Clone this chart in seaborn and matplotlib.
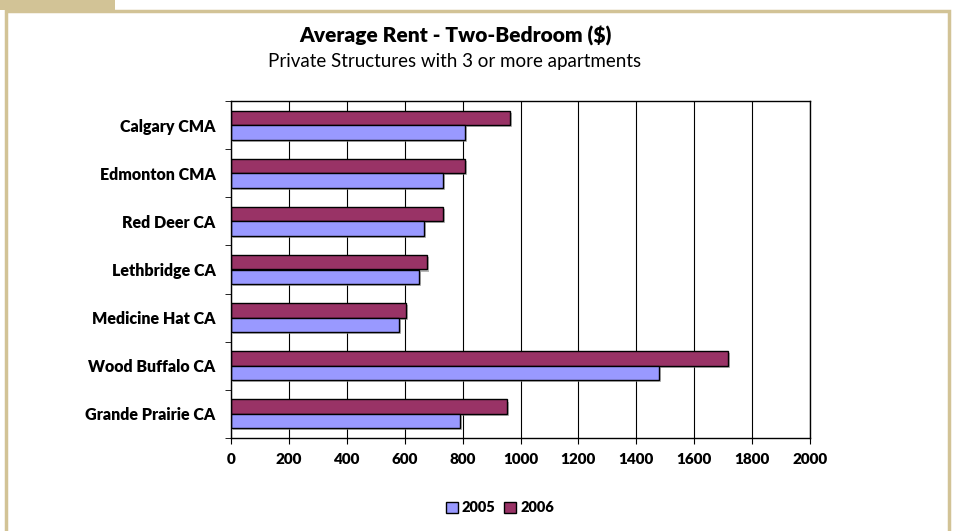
import matplotlib.pyplot as plt
import matplotlib.patheffects as pe
from matplotlib.patches import Rectangle, Patch
import numpy as np
import pandas as pd
import seaborn as sns

# data
cities = ['Calgary CMA', 'Edmonton CMA', 'Red Deer CA', 'Lethbridge CA',
          'Medicine Hat CA', 'Wood Buffalo CA', 'Grande Prairie CA']
rent_2005 = [808, 732, 667, 649, 580, 1478, 791]
rent_2006 = [964, 808, 732, 677, 605, 1716, 953]
years = ['2005', '2006']
colors = {'2005': '#9999FF', '2006': '#993366'}

df = pd.DataFrame({
    'city': cities * 2,
    'rent': rent_2005 + rent_2006,
    'year': ['2005'] * len(cities) + ['2006'] * len(cities),
})

plt.rcParams['font.family'] = ['Lato', 'DejaVu Sans']

fig = plt.figure(figsize=(9.56, 5.31), dpi=100)
W, H = 956, 531

# tan frame and tab
tan = '#D2C396'
fig.patches.append(Rectangle((0, 1 - 10 / H), 115 / W, 10 / H, transform=fig.transFigure,
                             facecolor=tan, edgecolor='none'))
fig.patches.append(Rectangle((6 / W, -0.05), (949 - 6) / W, 1.05 - 11 / H,
                             transform=fig.transFigure, facecolor='none',
                             edgecolor=tan, linewidth=2.5))

ax = fig.add_axes([231 / W, 1 - 438 / H, (810 - 231) / W, (438 - 101) / H])

sns.barplot(data=df, y='city', x='rent', hue='year', hue_order=['2006', '2005'],
            order=cities, palette=colors, orient='h', width=0.6,
            edgecolor='black', linewidth=1, saturation=1, ax=ax, legend=False)

for bar in ax.patches:
    bar.set_path_effects([pe.SimplePatchShadow(offset=(1.5, -1.5), shadow_rgbFace='#888888', alpha=0.6),
                          pe.Normal()])

ax.set_xlim(0, 2000)
ax.set_ylim(len(cities) - 0.5, -0.5)
ax.set_xticks(np.arange(0, 2001, 200))
ax.set_xticklabels([str(v) for v in range(0, 2001, 200)], fontweight='heavy', fontsize=11)
ax.xaxis.grid(True, color='black', linewidth=0.8)
ax.set_axisbelow(True)
ax.tick_params(axis='x', length=4, color='black', pad=7)

ax.set_yticks(range(len(cities)))
ax.set_yticklabels(cities, fontweight='heavy', fontsize=11.5)
ax.set_yticks(np.arange(-0.5, len(cities), 1), minor=True)
ax.tick_params(axis='y', which='major', length=0, pad=11)
ax.tick_params(axis='y', which='minor', length=4, color='black')
ax.set_xlabel('')
ax.set_ylabel('')

for s in ax.spines.values():
    s.set_color('black')
    s.set_linewidth(1)

fig.text(455 / W, 1 - 36 / H, 'Average Rent - Two-Bedroom ($)', ha='center', va='center',
         fontsize=15, fontweight='heavy')
fig.text(455 / W, 1 - 62 / H, 'Private Structures with 3 or more apartments', ha='center',
         va='center', fontsize=13.5)

handles = [Patch(facecolor=colors[y], edgecolor='black', label=y) for y in years]
fig.legend(handles=handles, loc='center', bbox_to_anchor=(500 / W, 1 - 508 / H), ncol=2,
           frameon=False, prop={'weight': 'heavy', 'size': 10.5}, handlelength=0.8,
           handleheight=0.8, columnspacing=0.6, handletextpad=0.3)

fig.savefig('out.png', dpi=100)
